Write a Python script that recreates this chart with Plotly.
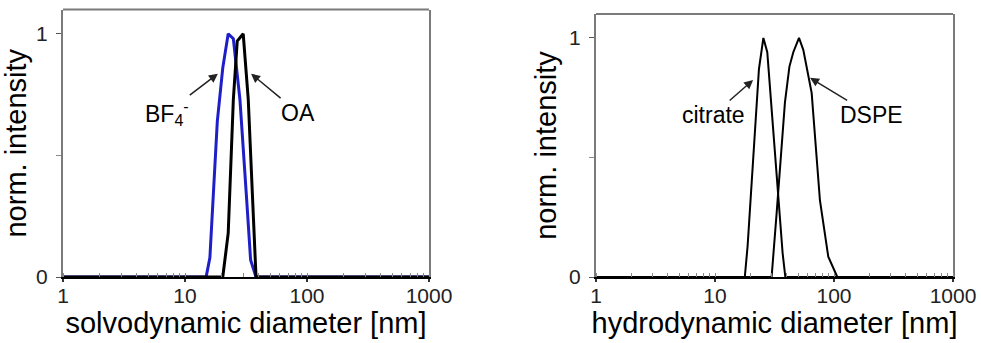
import numpy as np
import plotly.graph_objects as go

# ---- data ----
bf4_d = [1, 14.9, 16.0, 17.2, 18.4, 20.4, 22.6, 24.9, 28.2, 32.0, 34.5, 38.2, 1000]
bf4_i = [0, 0, 0.08, 0.35, 0.64, 0.86, 1.0, 0.98, 0.73, 0.32, 0.07, 0, 0]
oa_d = [1, 20.4, 22.6, 24.9, 26.8, 30.0, 33.0, 36.3, 38.2, 1000]
oa_i = [0, 0, 0.18, 0.73, 0.97, 1.0, 0.73, 0.25, 0, 0]
cit_d = [1, 17.8, 18.8, 21.0, 23.4, 25.5, 27.5, 31.9, 37.0, 39.0, 1000]
cit_i = [0, 0, 0.13, 0.52, 0.87, 1.0, 0.94, 0.52, 0.10, 0, 0]
dspe_d = [1, 29.9, 33.0, 38.7, 42.2, 45.5, 50.8, 55.2, 64.9, 76.2, 89.5, 106.6, 1000]
dspe_i = [0, 0, 0.27, 0.73, 0.88, 0.94, 1.0, 0.95, 0.77, 0.32, 0.085, 0, 0]

x_ticks = [1, 10, 100, 1000]
x_tick_text = ["1", "10", "100", "1000"]
y_ticks = [0, 1]
y_tick_text = ["0", "1"]
y_minor_ticks = [0.5]

FONT = "Liberation Sans, Arial, sans-serif"
FRAME = "#7a7a7a"

fig = go.Figure()
fig.add_trace(go.Scatter(x=bf4_d, y=bf4_i, mode="lines", line=dict(color="#1f1fc8", width=3),
                         xaxis="x", yaxis="y", showlegend=False))
fig.add_trace(go.Scatter(x=oa_d, y=oa_i, mode="lines", line=dict(color="black", width=3),
                         xaxis="x", yaxis="y", showlegend=False))
fig.add_trace(go.Scatter(x=cit_d, y=cit_i, mode="lines", line=dict(color="black", width=2),
                         xaxis="x2", yaxis="y2", showlegend=False))
fig.add_trace(go.Scatter(x=dspe_d, y=dspe_i, mode="lines", line=dict(color="black", width=2),
                         xaxis="x2", yaxis="y2", showlegend=False))

H = 343.0
def xaxis(domain, anchor, title):
    return dict(domain=domain, anchor=anchor, type="log", range=[0, 3],
                tickvals=x_ticks, ticktext=x_tick_text, ticks="outside", ticklen=3,
                tickwidth=1.5, tickcolor="#333", ticklabelstandoff=-4,
                minor=dict(ticks="inside", ticklen=4, tickcolor="#888", tickwidth=1, dtick="D1"),
                showgrid=False, zeroline=False, showline=True, linecolor="black", linewidth=2,
                mirror=False, automargin=False,
                tickfont=dict(family=FONT, size=21, color="#222"),
                title=dict(text=title, font=dict(family=FONT, size=29, color="black"), standoff=0))

def yaxis(domain, anchor):
    return dict(domain=domain, anchor=anchor, range=[0, 1.1], tickvals=y_ticks, ticktext=y_tick_text,
                ticks="outside", ticklen=5, tickcolor="#555", tickwidth=1,
                minor=dict(tickvals=y_minor_ticks, ticks="outside", ticklen=5, tickcolor="#888",
                           tickwidth=1, showgrid=False),
                showgrid=False, zeroline=False, showline=True, linecolor=FRAME, linewidth=2,
                mirror=True, automargin=False, ticklabelstandoff=4,
                tickfont=dict(family=FONT, size=21, color="#222"),
                title=dict(text="norm. intensity", font=dict(family=FONT, size=29, color="black"),
                           standoff=4))

fig.update_layout(
    width=981, height=343, margin=dict(l=0, r=0, t=0, b=0),
    paper_bgcolor="white", plot_bgcolor="white",
    xaxis=xaxis([63 / 981, 429 / 981], "y", "solvodynamic diameter [nm]"),
    yaxis=yaxis([1 - 277 / H, 1 - 9.5 / H], "x"),
    xaxis2=xaxis([596 / 981, 953 / 981], "y2", "hydrodynamic diameter [nm]"),
    yaxis2=yaxis([1 - 277 / H, 1 - 14 / H], "x2"),
)

# top frame lines
for xr, yr in (("x domain", "y domain"), ("x2 domain", "y2 domain")):
    fig.add_shape(type="line", xref=xr, yref=yr, x0=0, x1=1, y0=1, y1=1,
                  line=dict(color=FRAME, width=2))

lab = dict(family=FONT, size=23, color="black")
# labels with arrows: arrow tip in data coordinates, label offset in pixels
labels = [("BF<sub>4</sub><sup>-</sup>", 18.6, 0.836, -51, 39, "x", "y"),
          ("OA", 34.8, 0.836, 47, 39, "x", "y"),
          ("citrate", 20.9, 0.824, -40, 35, "x2", "y2"),
          ("DSPE", 62.9, 0.833, 61, 37, "x2", "y2")]
for t, xv, yv, ax, ay, xr, yr in labels:
    fig.add_annotation(text=t, x=np.log10(xv), y=yv, xref=xr, yref=yr, showarrow=True,
                       ax=ax, ay=ay, arrowhead=2, arrowsize=1.2, arrowwidth=1.5,
                       arrowcolor="#222", standoff=0, font=lab)

fig.write_html("out.html")
